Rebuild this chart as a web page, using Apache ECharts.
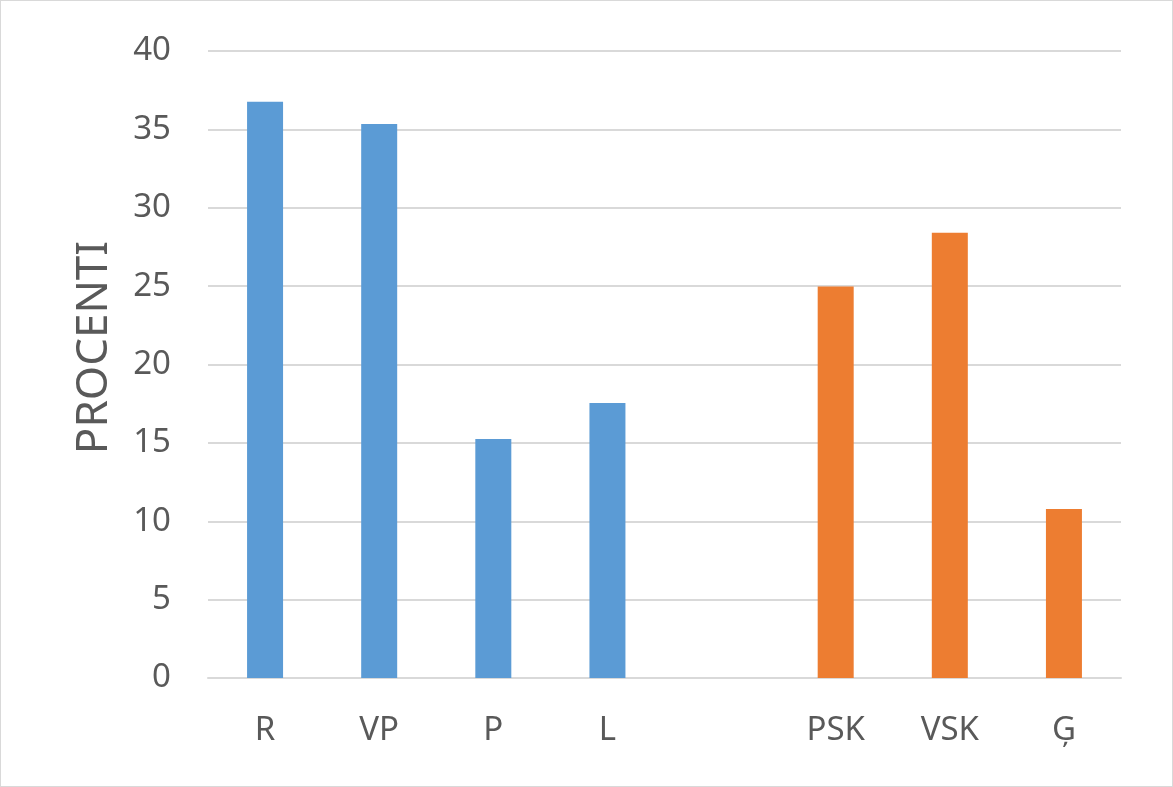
<!DOCTYPE html>
<html>
<head>
<meta charset="utf-8">
<script src="https://cdn.jsdelivr.net/npm/echarts@6/dist/echarts.min.js"></script>
<style>
html,body{margin:0;padding:0;background:#fff;}
#c{width:1173px;height:787px;box-sizing:border-box;border:1px solid #D9D9D9;}
</style>
</head>
<body>
<div id="c"></div>
<script>
const categories = ['R', 'VP', 'P', 'L', '', 'PSK', 'VSK', 'Ģ'];
const groupA = [36.76, 35.35, 15.25, 17.55, null, null, null, null];
const groupB = [null, null, null, null, null, 24.97, 28.4, 10.78];
const yTicks = { min: 0, max: 40, interval: 5 };
const yTitle = 'PROCENTI';

const chart = echarts.init(document.getElementById('c'), null, { renderer: 'canvas' });
const font = 'Noto Sans';
chart.setOption({
  animation: false,
  backgroundColor: '#fff',
  grid: { left: 207, right: 51, top: 50, bottom: 108, containLabel: false },
  xAxis: {
    type: 'category',
    data: categories,
    axisLine: { show: true, lineStyle: { color: '#D9D9D9', width: 2 } },
    axisTick: { show: false },
    axisLabel: { color: '#595959', fontFamily: font, fontSize: 33, margin: 36 },
    splitLine: { show: false }
  },
  yAxis: {
    type: 'value',
    min: yTicks.min, max: yTicks.max, interval: yTicks.interval,
    name: yTitle,
    nameLocation: 'middle',
    nameGap: 92,
    nameRotate: 90,
    nameTextStyle: { color: '#595959', fontFamily: font, fontSize: 44, padding: [0, 0, 0, 34] },
    axisLine: { show: false },
    axisTick: { show: false },
    axisLabel: { color: '#595959', fontFamily: font, fontSize: 33, margin: 37 },
    splitLine: { lineStyle: { color: '#D9D9D9', width: 2 } }
  },
  series: [
    { type: 'bar', data: groupA, barWidth: 36, barGap: '-100%', itemStyle: { color: '#5B9BD5' } },
    { type: 'bar', data: groupB, barWidth: 36, barGap: '-100%', itemStyle: { color: '#ED7D31' } }
  ]
});
</script>
</body>
</html>
